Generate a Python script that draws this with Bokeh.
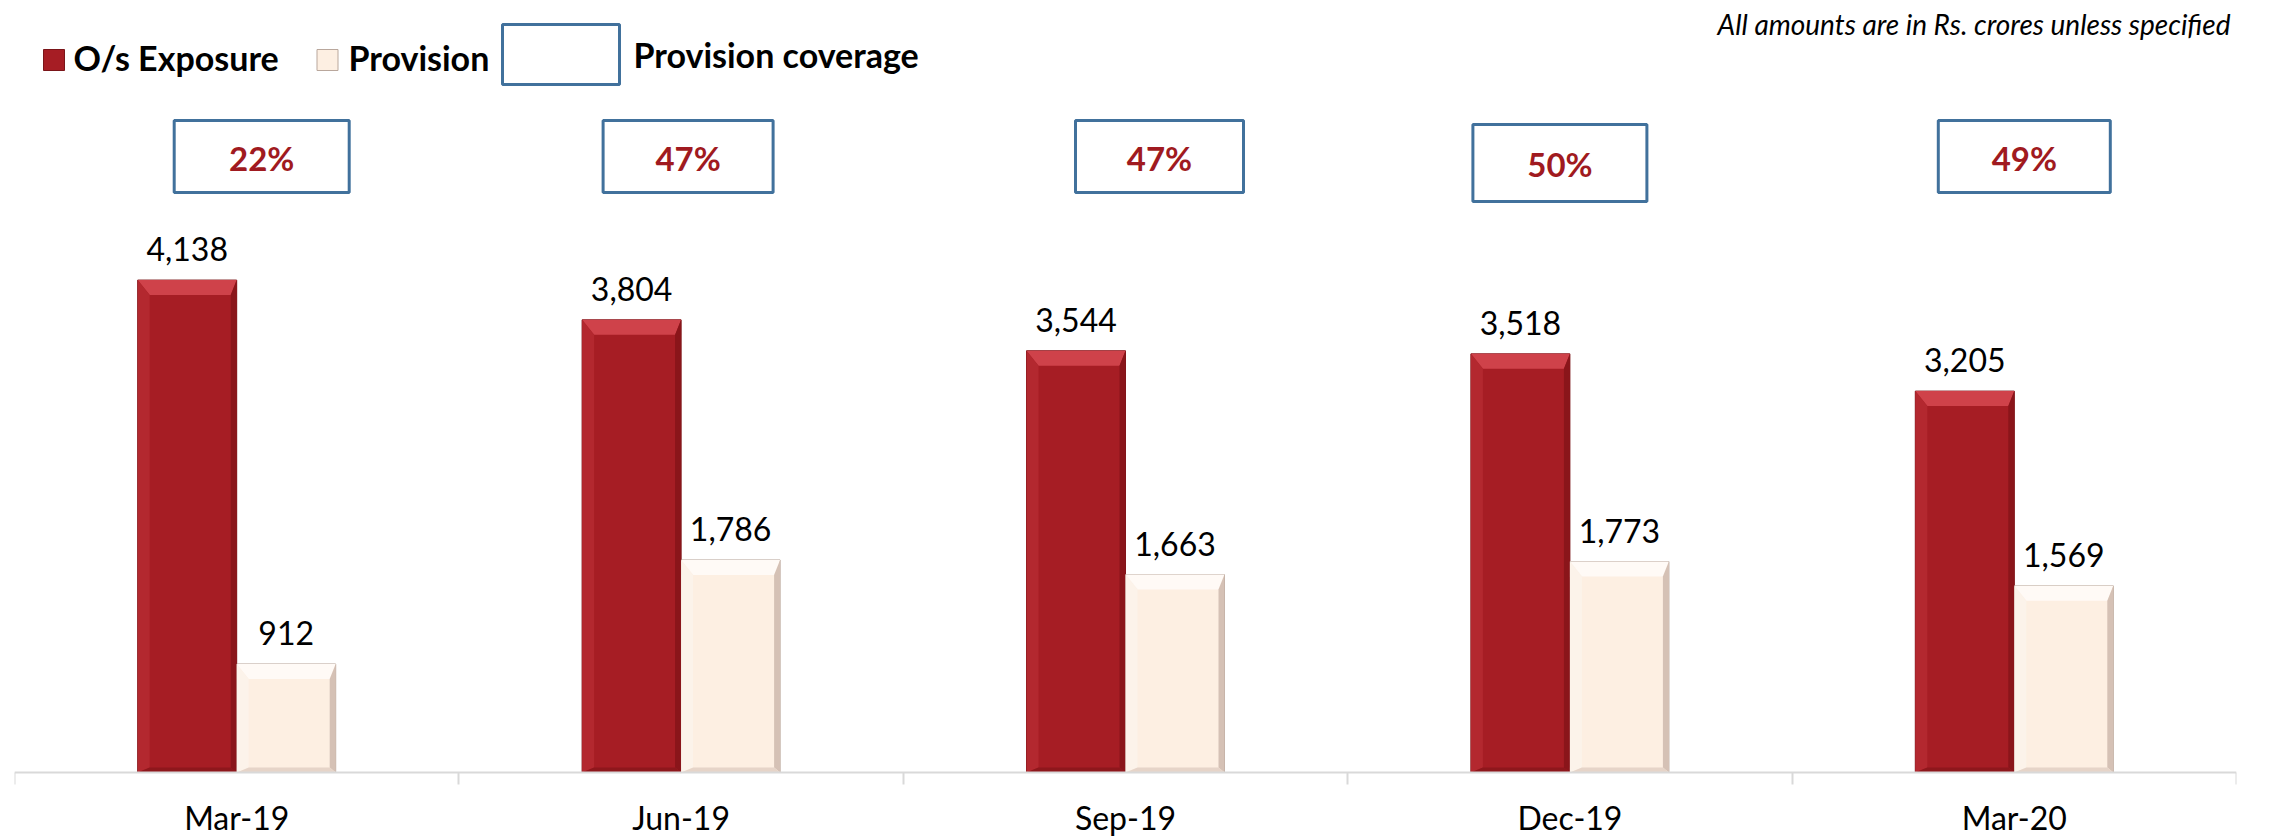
import numpy as np
from bokeh.plotting import figure
from bokeh.models import Range1d, FixedTicker, Label
from bokeh.core.properties import value
from bokeh.embed import file_html
from bokeh.resources import INLINE

# ---------------- data ----------------
categories = ["Mar-19", "Jun-19", "Sep-19", "Dec-19", "Mar-20"]
exposure = [4138, 3804, 3544, 3518, 3205]
provision = [912, 1786, 1663, 1773, 1569]
coverage = ["22%", "47%", "47%", "50%", "49%"]
series_names = ["O/s Exposure", "Provision", "Provision coverage"]
note = "All amounts are in Rs. crores unless specified"

# ---------------- layout / style ----------------
W, H = 2265, 836
ML, MR, MT, MB = 14, 29, 0, 0
FW = W - ML - MR
FH = H - MT - MB
BASE = 772                      # pixel row of the zero line
PX_PER_UNIT = 0.119
Y_END = BASE / PX_PER_UNIT
Y_START = -(FH - BASE) / PX_PER_UNIT
N = len(categories)
CAT_PX = FW / N
FONT = value("Lato")

RED, RED_LINE = "#A61D24", "#7A1519"
CREAM, CREAM_LINE = "#FDEFE2", "#B9A79C"
BOX_BLUE = "#41719C"
PCT_RED = "#A01A20"


def ux(px):
    return px / CAT_PX


def uy(px):
    return px / PX_PER_UNIT


def dx(fx):
    return (fx - ML) / CAT_PX


def dy(fy):
    return (BASE - fy) / PX_PER_UNIT


BAR_W = ux(99)
centers = np.arange(N) + 0.5
x_red = centers - BAR_W / 2
x_cream = centers + BAR_W / 2

p = figure(width=W, height=H, output_backend="svg", toolbar_location=None,
           x_range=Range1d(0, N), y_range=Range1d(Y_START, Y_END),
           min_border_left=ML, min_border_right=MR, min_border_top=MT, min_border_bottom=MB)
p.outline_line_color = None
p.xgrid.visible = False
p.ygrid.visible = False
p.yaxis.visible = False
p.background_fill_color = "white"
p.border_fill_color = "white"

# x axis on the zero line: labels at category centres, ticks at category boundaries
xa = p.xaxis[0]
xa.fixed_location = 0
xa.ticker = FixedTicker(ticks=list(centers), minor_ticks=list(range(N + 1)))
xa.major_label_overrides = {float(c): cat for c, cat in zip(centers, categories)}
xa.major_tick_line_color = None
xa.major_tick_out = 0
xa.major_tick_in = 0
xa.minor_tick_line_color = "#D9D9D9"
xa.minor_tick_line_width = 2
xa.minor_tick_out = 12
xa.minor_tick_in = 0
xa.axis_line_color = "#D9D9D9"
xa.axis_line_width = 2
xa.major_label_text_font = "Lato"
xa.major_label_text_font_size = "32px"
xa.major_label_text_color = "black"
xa.major_label_standoff = 13


def bevel_polys(xc, tops, w, t_px, l_px, r_px, b_px):
    tl, tr, tt, tb = ux(l_px), ux(r_px), uy(t_px), uy(b_px)
    polys = {"top": ([], []), "left": ([], []), "right": ([], []), "bottom": ([], [])}
    for x, top in zip(xc, tops):
        l, r = x - w / 2, x + w / 2
        polys["top"][0].append([l, r, r - tr, l + tl]); polys["top"][1].append([top, top, top - tt, top - tt])
        polys["left"][0].append([l, l + tl, l + tl, l]); polys["left"][1].append([0, tb, top - tt, top])
        polys["right"][0].append([r, r, r - tr, r - tr]); polys["right"][1].append([0, top, top - tt, tb])
        polys["bottom"][0].append([l, r, r - tr, l + tl]); polys["bottom"][1].append([0, 0, tb, tb])
    return polys


# bars
red_r = p.vbar(x=x_red, top=exposure, bottom=0, width=BAR_W, fill_color=RED,
               line_color=RED_LINE, line_width=1)
cream_r = p.vbar(x=x_cream, top=provision, bottom=0, width=BAR_W, fill_color=CREAM,
                 line_color=CREAM_LINE, line_width=1)

red_cols = {"top": "#CF424A", "left": "#B3282F", "right": "#8A151A", "bottom": "#8E171C"}
cream_cols = {"top": "#FFFAF6", "left": "#FCF3EA", "right": "#D5C1B5", "bottom": "#E6D4C8"}
for xs_, vals, cols in ((x_red, exposure, red_cols), (x_cream, provision, cream_cols)):
    polys = bevel_polys(xs_, vals, BAR_W, 15, 12, 6, 5)
    for k, (xx, yy) in polys.items():
        p.patches(xs=xx, ys=yy, fill_color=cols[k], line_color=None)

# value labels
for xs_, vals in ((x_red, exposure), (x_cream, provision)):
    p.text(x=xs_, y=vals, text=[f"{v:,}" for v in vals], y_offset=-31,
           text_align="center", text_baseline="middle", text_font=FONT,
           text_font_size="32px", text_color="black")

# provision coverage boxes (annotation placement, in pixels)
box_dx_px = [25, 7, 34, -10, 10]
box_cy_px = [156, 156, 156, 162.5, 156]
box_w_px = [175, 170, 168, 174, 172]
box_h_px = [72, 72, 72, 77, 72]
bx = centers + np.array([ux(d) for d in box_dx_px])
by = np.array([dy(c) for c in box_cy_px])
p.rect(x=bx, y=by, width=box_w_px, height=box_h_px, width_units="screen",
       height_units="screen", fill_color="white", line_color=BOX_BLUE, line_width=3)
p.text(x=bx, y=by, text=coverage, y_offset=1, text_align="center",
       text_baseline="middle", text_font=FONT, text_font_size="33px",
       text_font_style="bold", text_color=PCT_RED)

# legend (drawn manually)
p.rect(x=[dx(53.5)], y=[dy(59.5)], width=21, height=21, width_units="screen",
       height_units="screen", fill_color=RED, line_color=RED_LINE)
p.rect(x=[dx(327)], y=[dy(59.5)], width=21, height=21, width_units="screen",
       height_units="screen", fill_color=CREAM, line_color=CREAM_LINE)
p.rect(x=[dx(560.5)], y=[dy(54)], width=117, height=60, width_units="screen",
       height_units="screen", fill_color="white", line_color=BOX_BLUE, line_width=3)
p.text(x=[dx(73), dx(348), dx(633)], y=[dy(56.5), dy(56.5), dy(53.5)], text=series_names,
       text_align="left", text_baseline="middle", text_font=FONT,
       text_font_size="34px", text_font_style="bold", text_color="black")

# note
p.add_layout(Label(x=dx(2230), y=dy(23), text=note, text_align="right",
                   text_baseline="middle", text_font="Lato", text_font_size="28px",
                   text_font_style="italic", text_color="black"))

open("out.html", "w").write(file_html(p, INLINE))
